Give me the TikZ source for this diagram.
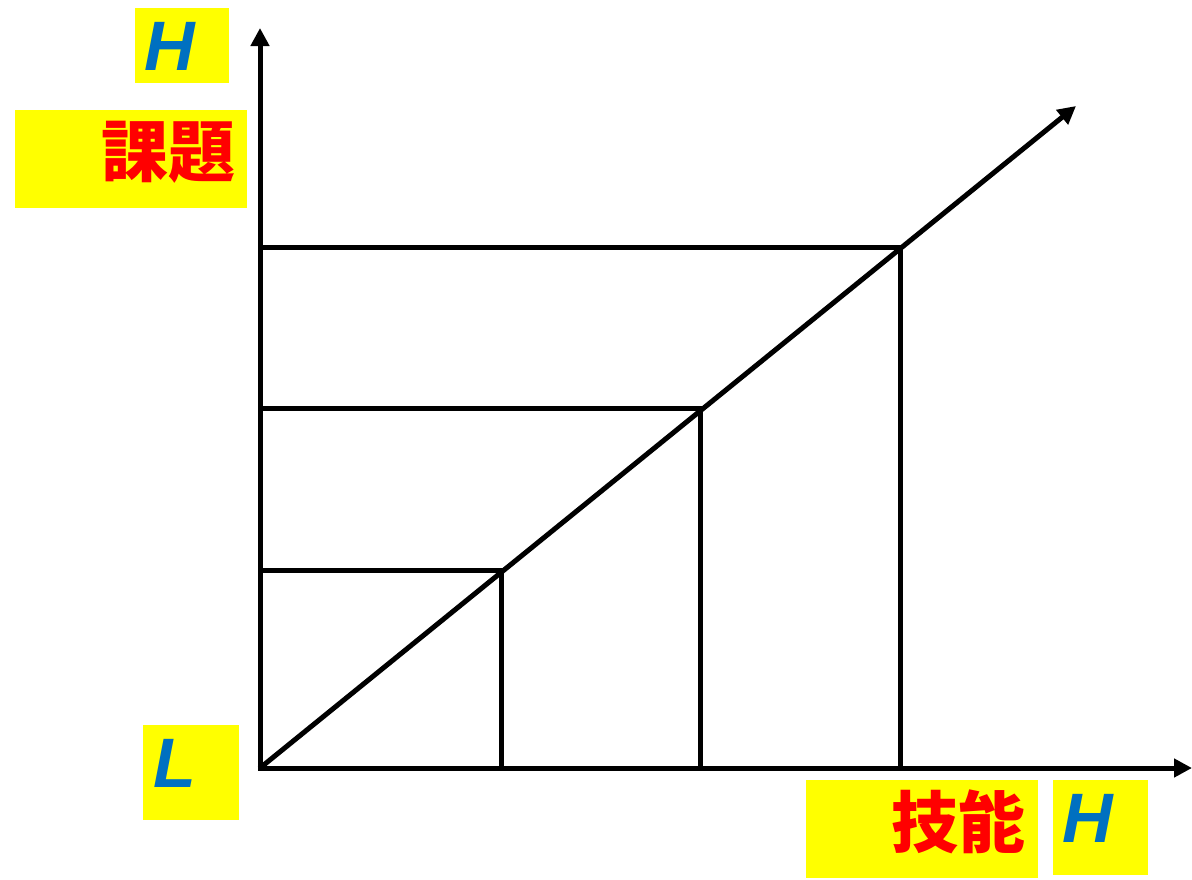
\documentclass[tikz,border=0pt]{standalone}
\usepackage{fontspec}
\setmainfont{Liberation Sans}
\newfontfamily\cjk{Noto Sans CJK JP}
\usetikzlibrary{arrows.meta}
\definecolor{hlyellow}{HTML}{FFFF00}
\definecolor{lblue}{HTML}{0070C0}
\definecolor{lred}{HTML}{FF0000}
\tikzset{
  ax/.style={line width=5pt, -{Triangle[length=18pt,width=18pt]}},
  grid/.style={line width=5pt},
  lbox/.style={fill=hlyellow, draw=none},
  hl/.style={text=lblue, font=\fontsize{70}{70}\selectfont\bfseries\itshape, inner sep=0pt},
  cj/.style={text=lred, font=\fontsize{67}{67}\selectfont\cjk\bfseries, inner sep=0pt},
}
\begin{document}
\begin{tikzpicture}[x=1pt,y=-1pt]
\useasboundingbox (0,0) rectangle (1192,879);
% label boxes
\fill[lbox] (135,8) rectangle (229,83);
\fill[lbox] (15,110) rectangle (247,208);
\fill[lbox] (143,725) rectangle (239,820);
\fill[lbox] (806,780) rectangle (1038,878);
\fill[lbox] (1053,780) rectangle (1148,875);
\node[hl] (hy) at (170,46) {H};
\node[cj, anchor=east] (ky) at (236,152) {課題};
\node[hl] (lo) at (175,763) {L};
\node[cj, anchor=east] (gn) at (1026,822) {技能};
\node[hl] (hx) at (1088,818) {H};
% coordinates
\coordinate (O) at (260,768);
\coordinate (Ytip) at (260,28);
\coordinate (Xtip) at (1192,768);
\coordinate (Dtip) at (1076,106);
\coordinate (P1) at (501,570);
\coordinate (P2) at (700,408);
\coordinate (P3) at (900,247);
\coordinate (Y1) at (260,570);
\coordinate (Y2) at (260,408);
\coordinate (Y3) at (260,247);
\coordinate (X1) at (501,768);
\coordinate (X2) at (700,768);
\coordinate (X3) at (900,768);
% grid
\draw[grid] (Y1) -- (P1) -- (X1);
\draw[grid] (Y2) -- (P2) -- (X2);
\draw[grid] (Y3) -- (P3) -- (X3);
% axes
\draw[ax] (O) -- (Dtip);
\draw[ax] ([yshift=-2.5pt]O) -- (Ytip);
\draw[ax] ([xshift=-2.5pt]O) -- (Xtip);
\end{tikzpicture}
\end{document}
